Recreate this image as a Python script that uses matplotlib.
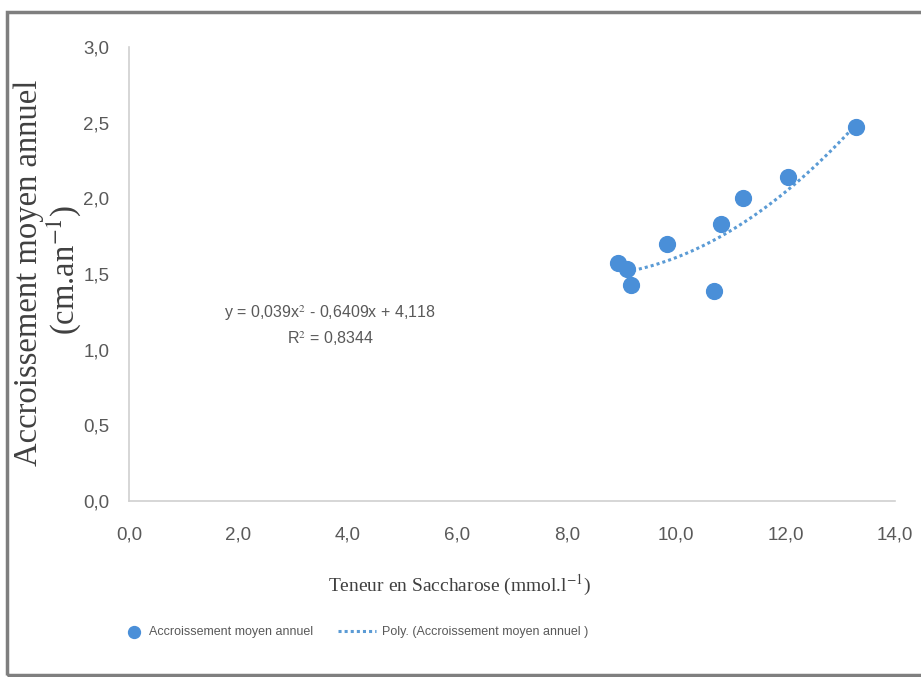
import numpy as np
import matplotlib
matplotlib.use("Agg")
import matplotlib.pyplot as plt
from matplotlib.patches import Rectangle

# sucrose content (mmol/l) vs mean annual growth (cm/yr)
saccharose = [8.93, 9.11, 9.17, 9.83, 10.70, 10.82, 11.22, 12.04, 13.28]
accroissement = [1.57, 1.53, 1.43, 1.70, 1.39, 1.83, 2.00, 2.14, 2.47]

# polynomial trendline coefficients as printed on the chart
poly_coef = [0.039, -0.6409, 4.118]
r2 = 0.8344

xticks = [0, 2, 4, 6, 8, 10, 12, 14]
yticks = [0, 0.5, 1.0, 1.5, 2.0, 2.5, 3.0]

plt.rcParams['font.family'] = ['Liberation Sans', 'DejaVu Sans']
plt.rcParams['mathtext.fontset'] = 'stix'

blue = '#4a8fd8'
grey_txt = '#595959'

fig = plt.figure(figsize=(9.21, 6.77), dpi=100)
ax = fig.add_axes([129/921, 1 - 501/677, (895 - 129)/921, (501 - 47)/677])

pts = ax.scatter(saccharose, accroissement, s=130, color=blue, zorder=3,
                 label='Accroissement moyen annuel')

xx = np.linspace(9.1, max(saccharose), 100)
trend, = ax.plot(xx, np.polyval(poly_coef, xx), color='#5b9bd5', lw=2.2,
                 linestyle=(0, (1, 1)), zorder=2,
                 label='Poly. (Accroissement moyen annuel )')

ax.set_xlim(0, 14)
ax.set_ylim(0, 3)
ax.set_xticks(xticks)
ax.set_yticks(yticks)
ax.set_xticklabels([f"{v:.1f}".replace('.', ',') for v in xticks])
ax.set_yticklabels([f"{v:.1f}".replace('.', ',') for v in yticks])
ax.tick_params(length=0, labelsize=13.5, labelcolor=grey_txt)
ax.tick_params(axis='x', pad=18.5)
ax.tick_params(axis='y', pad=14)

for s in ['top', 'right']:
    ax.spines[s].set_visible(False)
for s in ['left', 'bottom']:
    ax.spines[s].set_color('#d0d0d0')
    ax.spines[s].set_linewidth(1.2)

fig.text(330/921, 1 - 313/677,
         "y = 0,039x$^2$ - 0,6409x + 4,118", ha='center', va='center',
         fontsize=11.5, color=grey_txt)
fig.text(330/921, 1 - 339/677, "R$^2$ = 0,8344", ha='center', va='center',
         fontsize=11.5, color=grey_txt)

fig.text(460/921, 1 - 585/677, "Teneur en Saccharose (mmol.l$^{-1}$)",
         ha='center', va='center', fontsize=14, color='#404040',
         family='Liberation Serif')
fig.text(29/921, 1 - 273/677, "Accroissement moyen annuel",
         ha='center', va='center', rotation=90, fontsize=23.5, color='#404040',
         family='Liberation Serif')
fig.text(64/921, 1 - 270/677, "(cm.an$^{-1}$)",
         ha='center', va='center', rotation=90, fontsize=23.5, color='#404040',
         family='Liberation Serif')

# two legend entries placed separately, as in the reference
leg_fs = 9
fig.legend(handles=[pts], loc='center left',
           bbox_to_anchor=(128/921, 1 - 632/677), frameon=False,
           fontsize=leg_fs, labelcolor=grey_txt, borderaxespad=0,
           borderpad=0, handlelength=1.0, handletextpad=0.7,
           markerscale=0.75)
fig.legend(handles=[trend], loc='center left',
           bbox_to_anchor=(338/921, 1 - 632/677), frameon=False,
           fontsize=leg_fs, labelcolor=grey_txt, borderaxespad=0,
           borderpad=0, handlelength=3.0, handletextpad=0.5)

# outer chart frame
fig.patches.append(Rectangle((7/921, 1 - 675/677), 1.0, (675 - 12)/677,
                             transform=fig.transFigure, fill=False,
                             edgecolor='#7f7f7f', linewidth=2.5))

fig.savefig('out.png', dpi=100)
